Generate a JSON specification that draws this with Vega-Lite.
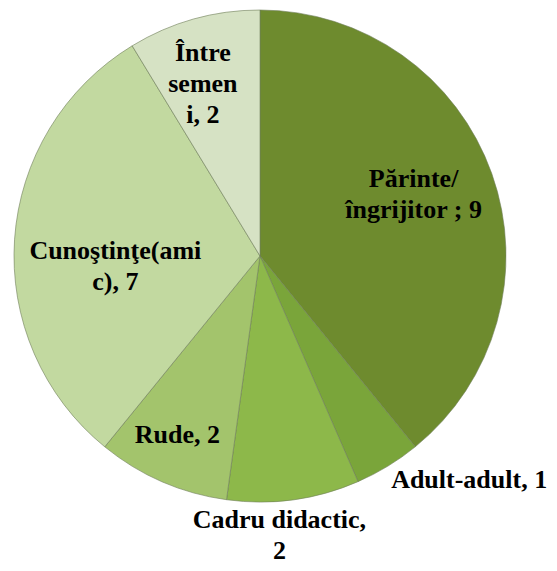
{
  "$schema": "https://vega.github.io/schema/vega-lite/v6.json",
  "width": 520,
  "height": 512,
  "autosize": {"type": "none"},
  "padding": {"left": 0, "top": 0, "right": 37, "bottom": 59},
  "background": "white",
  "config": {"view": {"stroke": null}, "text": {"font": "'Liberation Serif', 'Times New Roman', Times, serif"}},
  "data": {
    "values": [
      {"category": "Părinte/ îngrijitor", "value": 9, "label": "Părinte/\nîngrijitor ; 9"},
      {"category": "Adult-adult", "value": 1, "label": "Adult-adult, 1"},
      {"category": "Cadru didactic", "value": 2, "label": "Cadru didactic,\n2"},
      {"category": "Rude", "value": 2, "label": "Rude, 2"},
      {"category": "Cunoştinţe(amic)", "value": 7, "label": "Cunoştinţe(ami\nc), 7"},
      {"category": "Între semeni", "value": 2, "label": "Între\nsemen\ni, 2"}
    ]
  },
  "transform": [{"window": [{"op": "row_number", "as": "idx"}]}],
  "encoding": {
    "theta": {"field": "value", "type": "quantitative", "stack": true},
    "order": {"field": "idx", "type": "quantitative", "sort": "ascending"}
  },
  "layer": [
    {
      "mark": {"type": "arc", "outerRadius": 246, "stroke": "#6f7f5a", "strokeWidth": 1, "strokeOpacity": 0.6},
      "encoding": {
        "color": {
          "field": "category",
          "type": "nominal",
          "legend": null,
          "scale": {
            "domain": ["Părinte/ îngrijitor", "Adult-adult", "Cadru didactic", "Rude", "Cunoştinţe(amic)", "Între semeni"],
            "range": ["#6e8b2e", "#7aa53a", "#8db84a", "#a3c46c", "#c2d9a0", "#d6e2c4"]
          }
        }
      }
    },
    {
      "mark": {"type": "text", "radius": 163, "dy": -22, "fontWeight": "bold", "fontSize": 26, "lineHeight": 31, "lineBreak": "\n", "color": "black", "align": "center", "baseline": "middle"},
      "encoding": {"text": {"condition": {"test": "datum.category === 'Părinte/ îngrijitor'", "field": "label"}, "value": ""}}
    },
    {
      "mark": {"type": "text", "radius": 262, "dx": -5, "fontWeight": "bold", "fontSize": 26, "lineHeight": 31, "lineBreak": "\n", "color": "black", "align": "left", "baseline": "middle"},
      "encoding": {"text": {"condition": {"test": "datum.category === 'Adult-adult'", "field": "label"}, "value": ""}}
    },
    {
      "mark": {"type": "text", "radius": 282, "dx": -19, "dy": -15, "fontWeight": "bold", "fontSize": 26, "lineHeight": 31, "lineBreak": "\n", "color": "black", "align": "center", "baseline": "middle"},
      "encoding": {"text": {"condition": {"test": "datum.category === 'Cadru didactic'", "field": "label"}, "value": ""}}
    },
    {
      "mark": {"type": "text", "radius": 195, "dx": -5, "fontWeight": "bold", "fontSize": 26, "lineHeight": 31, "lineBreak": "\n", "color": "black", "align": "center", "baseline": "middle"},
      "encoding": {"text": {"condition": {"test": "datum.category === 'Rude'", "field": "label"}, "value": ""}}
    },
    {
      "mark": {"type": "text", "radius": 145, "dy": 5, "fontWeight": "bold", "fontSize": 26, "lineHeight": 31, "lineBreak": "\n", "color": "black", "align": "center", "baseline": "middle"},
      "encoding": {"text": {"condition": {"test": "datum.category === 'Cunoştinţe(amic)'", "field": "label"}, "value": ""}}
    },
    {
      "mark": {"type": "text", "radius": 182, "dx": -8, "dy": -28, "fontWeight": "bold", "fontSize": 26, "lineHeight": 31, "lineBreak": "\n", "color": "black", "align": "center", "baseline": "middle"},
      "encoding": {"text": {"condition": {"test": "datum.category === 'Între semeni'", "field": "label"}, "value": ""}}
    }
  ]
}
